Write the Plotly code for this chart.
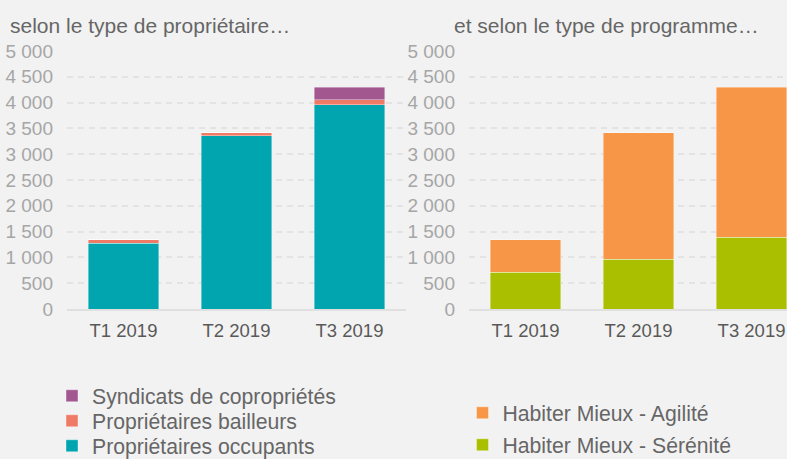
import plotly.graph_objects as go

categories = ["T1 2019", "T2 2019", "T3 2019"]

# Left chart: by owner type
occupants = [1275, 3360, 3960]
bailleurs = [65, 60, 95]
syndicats = [0, 0, 245]

# Right chart: by programme type
serenite = [710, 965, 1390]
agilite = [630, 2455, 2910]

y_ticks = [0, 500, 1000, 1500, 2000, 2500, 3000, 3500, 4000, 4500, 5000]

FONT = "Arial, Liberation Sans, sans-serif"
W, H = 787, 459
plot_top = 51
plot_bottom = 309
PH = plot_bottom - plot_top
LEG_SIZE = 21.2


def py(px_y):
    """pixel y (from top) -> paper y"""
    return (plot_bottom - px_y) / PH


fig = go.Figure()

bar_line = dict(color="rgba(255,255,255,0.5)", width=0.75)

fig.add_trace(go.Bar(x=categories, y=occupants, name="Propriétaires occupants",
                     marker=dict(color="#00A5B0", line=bar_line),
                     xaxis="x", yaxis="y", legend="legend3"))
fig.add_trace(go.Bar(x=categories, y=bailleurs, name="Propriétaires bailleurs",
                     marker=dict(color="#EF7B67", line=bar_line),
                     xaxis="x", yaxis="y", legend="legend2"))
fig.add_trace(go.Bar(x=categories, y=syndicats, name="Syndicats de copropriétés",
                     marker=dict(color="#A3578F", line=bar_line),
                     xaxis="x", yaxis="y", legend="legend"))

fig.add_trace(go.Bar(x=categories, y=serenite, name="Habiter Mieux - Sérénité",
                     marker=dict(color="#AABF00", line=bar_line),
                     xaxis="x2", yaxis="y2", legend="legend5"))
fig.add_trace(go.Bar(x=categories, y=agilite, name="Habiter Mieux - Agilité",
                     marker=dict(color="#F79646", line=bar_line),
                     xaxis="x2", yaxis="y2", legend="legend4"))

yax = dict(range=[0, 5000], tickvals=y_ticks, tickformat=",d",
           showgrid=True, gridcolor="#e3e3e3", gridwidth=2, griddash="6px,5px",
           zeroline=False, showline=False,
           tickfont=dict(family=FONT, size=19, color="#a6a6a6"),
           ticks="", ticklabelstandoff=13, fixedrange=True, automargin=False)
xax = dict(showgrid=False, zeroline=False, showline=True, linecolor="#e0e0e0", linewidth=2,
           ticks="", tickfont=dict(family=FONT, size=18.5, color="#595959"),
           ticklabelstandoff=4, tickangle=0, automargin=False)


def leg(x_text, y_center):
    return dict(x=(x_text - 40) / W, xanchor="left", y=(H - y_center) / H, yanchor="middle",
                yref="container", xref="container", bgcolor="rgba(0,0,0,0)",
                borderwidth=0, font=dict(family=FONT, size=LEG_SIZE, color="#666666"),
                itemclick=False, itemdoubleclick=False)


fig.update_layout(
    width=W, height=H,
    paper_bgcolor="#f2f2f2", plot_bgcolor="#f2f2f2",
    margin=dict(l=0, r=0, t=plot_top, b=H - plot_bottom, autoexpand=False),
    barmode="stack", bargap=0.38,
    separators=", ",
    font=dict(family=FONT, color="#666666"),
    xaxis=dict(domain=[67 / W, 406 / W], range=[-0.5, 2.5], anchor="y", **xax),
    yaxis=dict(domain=[0, 1], anchor="x", **yax),
    xaxis2=dict(domain=[469 / W, 1.0], range=[-0.5, 2.314], anchor="y2", **xax),
    yaxis2=dict(domain=[0, 1], anchor="x2", **yax),
    legend=leg(92, 396),
    legend2=leg(92, 421),
    legend3=leg(92, 446),
    legend4=leg(502.5, 413),
    legend5=leg(502.5, 445),
    showlegend=True,
    annotations=[
        dict(text="selon le type de propriétaire…", x=8 / W, y=py(25),
             xref="paper", yref="paper", xanchor="left", yanchor="middle",
             showarrow=False, font=dict(family=FONT, size=21, color="#666666")),
        dict(text="et selon le type de programme…", x=452 / W, y=py(25),
             xref="paper", yref="paper", xanchor="left", yanchor="middle",
             showarrow=False, font=dict(family=FONT, size=21, color="#666666")),
    ],
)

fig.write_html(
    "out.html",
    config={"displayModeBar": False},
    post_script="document.body.style.margin='0';document.body.style.overflow='hidden';"
                "document.body.style.background='#f2f2f2';",
)
